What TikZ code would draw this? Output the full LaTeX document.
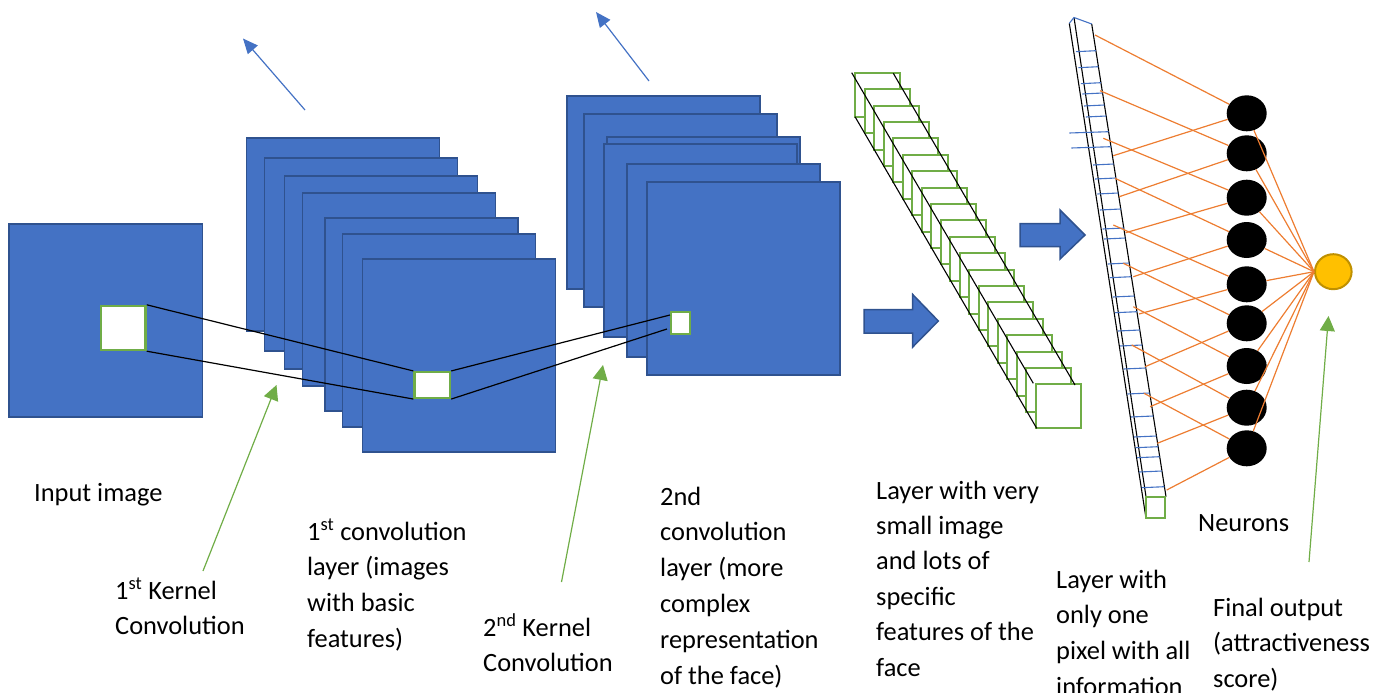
\documentclass[tikz,border=0pt]{standalone}
\usepackage{fontspec}
\setmainfont{Carlito}
\usetikzlibrary{arrows.meta,shapes.geometric,calc}
\definecolor{mapblue}{HTML}{4472C4}
\definecolor{mapedge}{HTML}{2F528F}
\definecolor{kgreen}{HTML}{70AD47}
\definecolor{wireorange}{HTML}{ED7D31}
\definecolor{gold}{HTML}{FFC000}
\definecolor{goldedge}{HTML}{BF9000}
\begin{document}
\begin{tikzpicture}[x=1pt,y=-1pt,
  fmap/.style={fill=mapblue,draw=mapedge,line width=1.8pt},
  kernel/.style={rectangle,fill=white,draw=kgreen,line width=2.4pt,inner sep=0pt},
  link/.style={draw=black,line width=1.2pt},
  pointer/.style={draw=mapblue,line width=1.2pt,-{Triangle[length=15pt,width=13pt]}},
  callout/.style={draw=kgreen,line width=1.2pt,-{Triangle[length=15pt,width=15pt]}},
  blockarrow/.style={fill=mapblue,draw=mapedge,line width=1.5pt},
  cell/.style={fill=white,draw=kgreen,line width=2pt},
  edgeline/.style={draw=black,line width=1.1pt},
  tick/.style={draw=mapblue,line width=1.1pt},
  synapse/.style={draw=wireorange,line width=1.2pt},
  neuron/.style={ellipse,fill=black,minimum width=40pt,minimum height=36pt,inner sep=0pt},
  % multi-line captions are placed by the baseline of their last line
  txt/.style={font=\fontsize{26.4}{35.8}\selectfont,align=left,anchor=base west,inner sep=0pt},
]
\useasboundingbox (0,0) rectangle (1387,693);

% input image with its kernel window
\draw[fmap] (9,224) rectangle (202.5,416.7);
\node[kernel,minimum width=44.5pt,minimum height=44pt] (k1) at (123.3,328) {};

% first convolution layer: stack of feature maps
\foreach \x/\y in {246.5/137.7, 264.4/157.7, 284.4/175.7, 302.5/193, 324.7/217.7, 342.5/233.7, 362.5/259.3}
  \draw[fmap] (\x,\y) rectangle ++(193,193);
\node[kernel,minimum width=35.5pt,minimum height=25.7pt] (k2) at (432.3,385) {};

% second convolution layer
\foreach \x/\y in {567.3/96, 584.3/113.7, 607/137.3, 604.3/144, 626.7/163.7, 646.7/181.7}
  \draw[fmap] (\x,\y) rectangle ++(193,193);
\node[kernel,minimum width=18.7pt,minimum height=22pt,line width=2pt] (k3) at (680.3,323) {};

% receptive field projections
\draw[link] (k1.north east) -- (k2.north west);
\draw[link] (k1.south east) -- (k2.south west);
\draw[link] (k2.north east) -- ([yshift=-4pt]k3.north west);
\draw[link] (k2.south east) -- ([xshift=-3pt,yshift=6pt]k3.south west);

% pointers above the stacks
\coordinate (p1) at (305,110); \coordinate (p1tip) at (243,38.5);
\coordinate (p2) at (649,81);  \coordinate (p2tip) at (596,12);
\draw[pointer] (p1) -- (p1tip);
\draw[pointer] (p2) -- (p2tip);

% callout arrows
\coordinate (c1) at (203,571);    \coordinate (c1tip) at (276.5,385);
\coordinate (c2) at (561.5,582);  \coordinate (c2tip) at (603,365);
\coordinate (c3) at (1309,562);   \coordinate (c3tip) at (1328.5,316);
\draw[callout] (c1) -- (c1tip);
\draw[callout] (c2) -- (c2tip);
\draw[callout] (c3) -- (c3tip);

% deep layer: long diagonal stack of small maps
\foreach \i in {0,...,19}
  \draw[cell] ({855+9.5*\i},{72.7+16.4*\i}) rectangle ++(45,44);
\draw[edgeline] (851.7,72.7) -- (1033.3,383.3);
\draw[edgeline] (855,116.7) -- (1036.7,428.3);
\draw[edgeline] (893.3,73.3) -- (1075,385);

% block arrows
\draw[blockarrow] (864,309.5) -- (912.7,309.5) -- (912.7,294.5) -- (938.3,321) -- (912.7,347) -- (912.7,333) -- (864,333) -- cycle;
\draw[blockarrow] (1020,223.5) -- (1060,223.5) -- (1060,210) -- (1085,235) -- (1060,259) -- (1060,246.5) -- (1020,246.5) -- cycle;

% flattened layer: one-pixel maps seen edge on
\draw[edgeline] (1069.3,23.3) -- (1146,518.3);
\draw[edgeline] (1074,17.5) -- (1146,496.7);
\draw[edgeline] (1091.7,24) -- (1166,496.7);
\draw[tick] (1069.3,23.3) -- (1074,17.5) -- (1091.7,24);
\foreach \yy in {50.7,66.7,82.7,93,105,116,164,178,193,209,228,238,263,276.7,296,311.7,330,345,368,393,416,436,446.7,456.7,471,486.7}
  \draw[tick] ({1071+(\yy-17.5)*0.1503},\yy+1) -- ({1091.7+(\yy-24)*0.1571},\yy);
\draw[tick] (1069.3,133) -- ({1091.7+(131.7-24)*0.1571},131.7);
\draw[tick] (1071.3,148) -- ({1091.7+(146.7-24)*0.1571},146.7);
\draw[cell] (1146,496.7) rectangle (1165,518.3);

% fully connected neurons and output
\foreach \i/\y in {1/113.3, 2/153.3, 3/197.7, 4/240, 5/284.3, 6/323.3, 7/366, 8/407.7, 9/448.3}
  \node[neuron] (n\i) at (1246.7,\y) {};
\node[ellipse,fill=gold,draw=goldedge,line width=2pt,minimum width=36.6pt,minimum height=35pt,inner sep=0pt] (out) at (1333.3,271.7) {};

\foreach \i/\x/\y in {1/1095/35, 2/1100/90.7, 3/1103.3/138.3, 4/1115/178.3, 5/1113.3/225, 6/1123.3/263.3, 7/1133.3/306.7, 8/1131.7/345, 9/1144/393.3}
  {\coordinate (d\i) at (\x,\y); \draw[synapse] (d\i) -- (n\i);}
\foreach \i/\x/\y in {1/1113.3/155.7, 2/1119.3/196.7, 3/1125.7/232.7, 4/1133.3/276.7, 5/1139/314, 6/1145/366.7, 7/1150/406.7, 8/1157.3/443.3, 9/1166.7/490}
  {\coordinate (a\i) at (\x,\y); \draw[synapse] (a\i) -- (n\i);}
\foreach \i in {1,...,9}
  \draw[synapse] (n\i) -- (out.west);

% captions
\node[txt] (tin) at (34,501) {Input image};
\node[txt] (tk1) at (115,634.8) {1\textsuperscript{st} Kernel\\Convolution};
\node[txt] (tc1) at (307,647.4) {1\textsuperscript{st} convolution\\layer (images\\with basic\\features)};
\node[txt] (tk2) at (483,671.8) {2\textsuperscript{nd} Kernel\\Convolution};
\node[txt] (tc2) at (660,684) {2nd\\convolution\\layer (more\\complex\\representation\\of the face)};
\node[txt,font=\fontsize{26.4}{35.4}\selectfont] (tsm) at (876,676) {Layer with very\\small image\\and lots of\\specific\\features of the\\face};
\node[txt] (tne) at (1198,531) {Neurons};
\node[txt] (tpx) at (1056,695.4) {Layer with\\only one\\pixel with all\\information};
\node[txt] (tout) at (1213,687.6) {Final output\\(attractiveness\\score)};
\end{tikzpicture}
\end{document}
